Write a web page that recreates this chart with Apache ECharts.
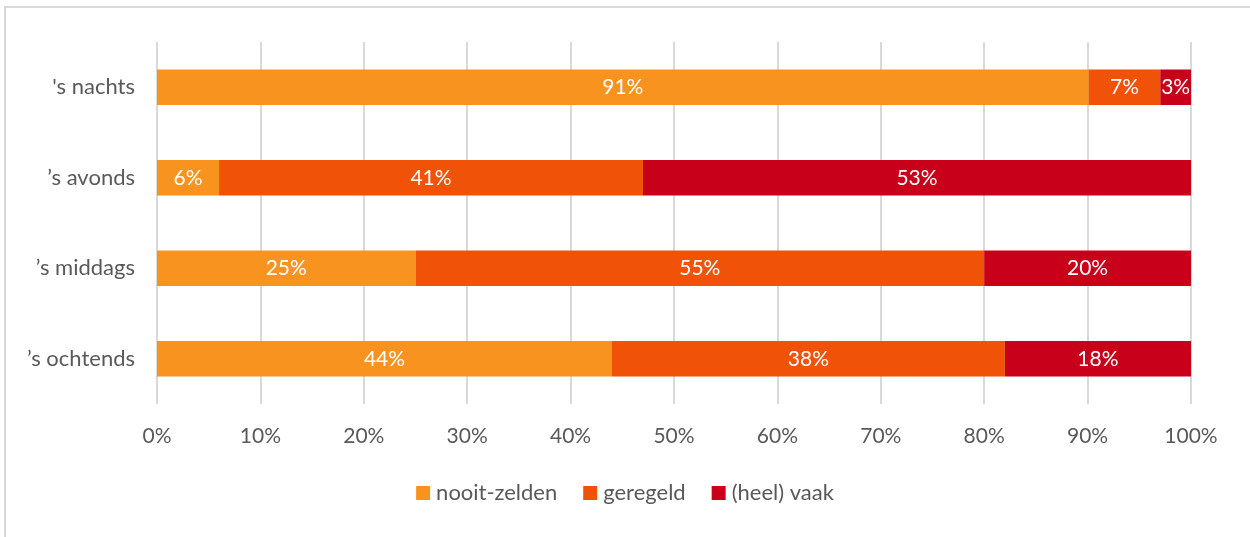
<!DOCTYPE html>
<html>
<head>
<meta charset="utf-8">
<script src="https://cdn.jsdelivr.net/npm/echarts@6/dist/echarts.min.js"></script>
<style>
  html, body { margin: 0; padding: 0; background: #fff; }
  #frame { position: absolute; left: 4px; top: 6px; width: 1260px; height: 560px; border: 2px solid #d9d9d9; box-sizing: border-box; }
  #chart { position: absolute; left: 0; top: 0; width: 1250px; height: 537px; }
</style>
</head>
<body>
<div id="frame"></div>
<div id="chart"></div>
<script>
const categories = ["'s nachts", '\u2019s avonds', '\u2019s middags', '\u2019s ochtends']
const nooitZelden = [91, 6, 25, 44]
const geregeld = [7, 41, 55, 38]
const heelVaak = [3, 53, 20, 18]
const xTicks = [0, 10, 20, 30, 40, 50, 60, 70, 80, 90, 100]

const groups = [
  { name: 'nooit-zelden', data: nooitZelden, color: '#F7931E' },
  { name: 'geregeld', data: geregeld, color: '#F05308' },
  { name: '(heel) vaak', data: heelVaak, color: '#C8001A' },
]

// 100% stacked: each row is scaled to its own total, labels keep the raw value
const totals = categories.map((_, i) => groups.reduce((s, g) => s + g.data[i], 0))

const FONT = 'Lato, "Open Sans", sans-serif'
const SIZE = 21
const chart = echarts.init(document.getElementById('chart'))
chart.setOption({
  animation: false,
  textStyle: { fontFamily: FONT },
  grid: { left: 157, right: 59, top: 42, bottom: 133 },
  legend: {
    bottom: 28,
    left: 'center',
    itemWidth: 14,
    itemHeight: 14,
    itemGap: 26,
    icon: 'rect',
    textStyle: { fontSize: 22, color: '#595959', fontFamily: FONT, padding: [2, 0, 0, 1] },
    data: groups.map(g => g.name),
  },
  xAxis: {
    type: 'value',
    min: xTicks[0],
    max: xTicks[xTicks.length - 1],
    interval: 10,
    axisLine: { show: false },
    axisTick: { show: false },
    axisLabel: { formatter: '{value}%', fontSize: SIZE, color: '#595959', margin: 22 },
    splitLine: { lineStyle: { color: '#d9d9d9', width: 2 } },
  },
  yAxis: {
    type: 'category',
    data: categories,
    inverse: true,
    axisLine: { show: false },
    axisTick: { show: false },
    axisLabel: { fontSize: 22, color: '#595959', margin: 22, padding: [4, 0, 0, 0] },
  },
  series: groups.map(g => ({
    name: g.name,
    type: 'bar',
    stack: 'total',
    barWidth: '39%',
    itemStyle: { color: g.color },
    label: {
      show: true,
      position: 'inside',
      color: '#fff',
      fontSize: SIZE,
      padding: [3, 0, 0, 0],
      formatter: p => g.data[p.dataIndex] + '%',
    },
    data: g.data.map((v, i) => v / totals[i] * 100),
  })),
})
</script>
</body>
</html>
